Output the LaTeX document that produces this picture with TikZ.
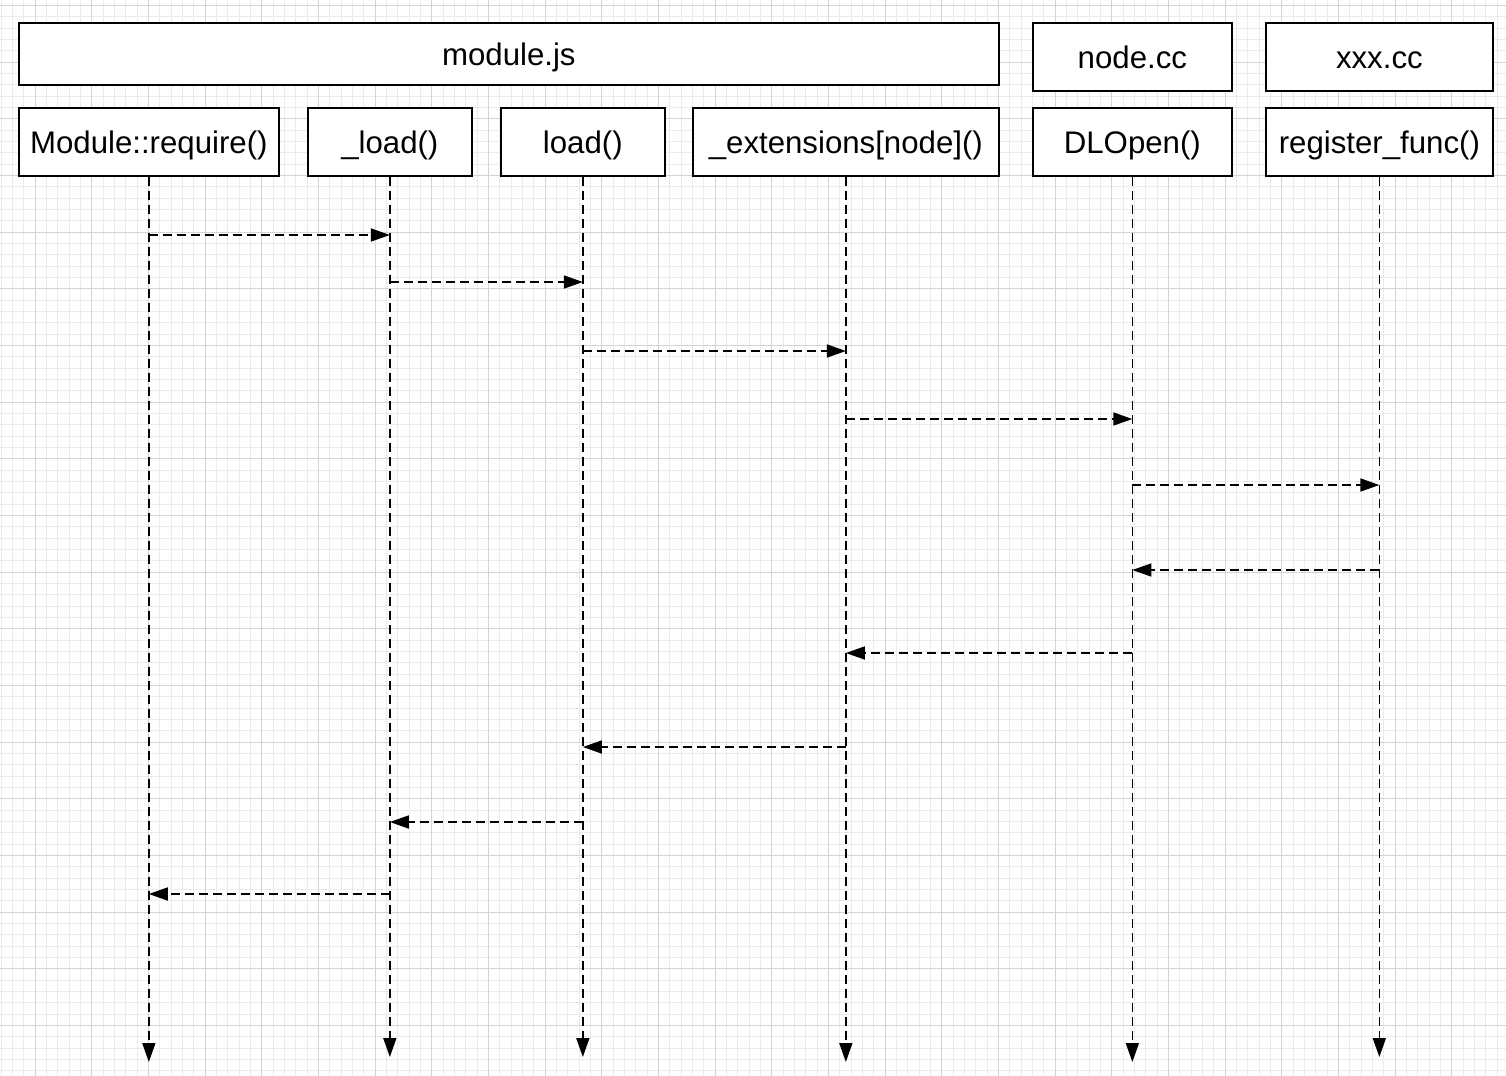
\documentclass[tikz,border=0pt]{standalone}
\usepackage{fontspec}
\setmainfont{Liberation Sans}
\usepackage{xcolor}
\usepackage{tikz}
\usetikzlibrary{arrows.meta,positioning}
\definecolor{gridminor}{HTML}{EBEBEB}
\definecolor{gridmajor}{HTML}{D4D4D4}

\begin{document}
\begin{tikzpicture}[x=0.5pt, y=-0.5pt,
    every node/.style={font=\fontsize{15.6pt}{18pt}\selectfont, align=center},
    box/.style={draw, line width=0.85pt, fill=white, anchor=north west,
      inner sep=0pt, text height=15pt, text depth=3pt},
    life/.style={line width=0.85pt, dash pattern=on 4.5pt off 2.5pt,
      -{Triangle[length=9.5pt,width=6.5pt]}},
    msg/.style={line width=0.85pt, dash pattern=on 4.5pt off 2.5pt,
      -{Triangle[length=9.5pt,width=6.5pt]}}]
  \useasboundingbox (0,0) rectangle (1506,1076);
  % canvas grid
  \fill[white] (0,0) rectangle (1506,1076);
  \foreach \i in {0,...,133}
    \draw[gridminor, line width=0.5pt] ({1.3+\i*11.333},0) -- ++(0,1076);
  \foreach \j in {0,...,94}
    \draw[gridminor, line width=0.5pt] (0,{5.4+\j*11.333}) -- ++(1506,0);
  \foreach \i in {0,...,26}
    \draw[gridmajor, line width=0.5pt] ({35.3+\i*56.667},0) -- ++(0,1076);
  \foreach \j in {0,...,18}
    \draw[gridmajor, line width=0.5pt] (0,{5.4+\j*56.667}) -- ++(1506,0);
  % files
  \node[box, minimum width=490pt, minimum height=31pt] (modjs) at (18,22) {module.js};
  \node[box, minimum width=99.5pt, minimum height=34pt] (nodecc) at (1032,22) {node.cc};
  \node[box, minimum width=113.5pt, minimum height=34pt] (xxxcc) at (1265,22) {xxx.cc};
  % functions
  \node[box, minimum width=130pt, minimum height=34pt] (req) at (18,107) {Module::require()};
  \node[box, minimum width=82pt, minimum height=34pt] (uload) at (307,107) {\_load()};
  \node[box, minimum width=82pt, minimum height=34pt] (load) at (500,107) {load()};
  \node[box, minimum width=153pt, minimum height=34pt] (ext) at (692,107) {\_extensions[node]()};
  \node[box, minimum width=99.5pt, minimum height=34pt] (dlopen) at (1032,107) {DLOpen()};
  \node[box, minimum width=113.5pt, minimum height=34pt] (reg) at (1265,107) {register\_func()};
  % lifelines
  \foreach \n/\y in {req/1062, uload/1057, load/1057, ext/1062, dlopen/1062, reg/1057} {
    \coordinate (\n-end) at (\n.south |- 0,\y);
    \draw[life] (\n.south) -- (\n-end);
  }
  % calls and returns
  \foreach \y/\a/\b in {235/req/uload, 282/uload/load, 351/load/ext,
      419/ext/dlopen, 485/dlopen/reg, 570/reg/dlopen, 653/dlopen/ext,
      747/ext/load, 822/load/uload, 894/uload/req}
    \draw[msg] (\a.south |- 0,\y) -- (\b.south |- 0,\y);
\end{tikzpicture}
\end{document}
